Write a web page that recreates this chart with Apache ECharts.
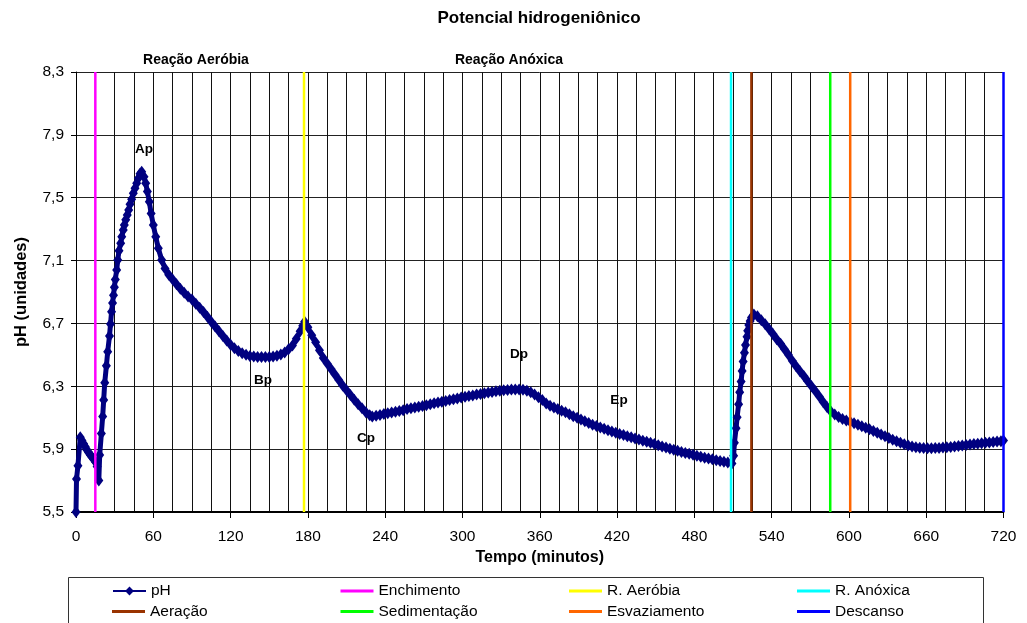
<!DOCTYPE html>
<html><head><meta charset="utf-8">
<script src="https://cdn.jsdelivr.net/npm/echarts@6/dist/echarts.min.js"></script>
<style>html,body{margin:0;padding:0;background:#fff}#c{width:1027px;height:623px}</style>
</head><body><div id="c"></div>
<script>
// ---- data ----
const times = [
  0,0.4,1.5,3.3,4.6,5.9,7.2,8.5,9.8,11.1,12.4,13.6,15,16.4,17.7,
  18.4,19.7,20.7,21.5,22.3,23.6,24.6,26,26.8,27.6,28.4,29.1,29.8,30.5,31.6,32.4,33.4,34.7,35.5,36.7,37.5,38.6,39.8,40.9,41.9,43.2,44.5,45.8,47.1,48.4,49.7,51,
  52.8,54.1,55.4,56.9,58.3,60,61.9,63.9,66.5,69.1,
  72,75,78,81,84,87,90,93,96,99,102,105,108,111,114,117,120,123,126,129,132,135,138,141,144,147,150,153,156,159,162,165,168,171,174,176,177.5,
  180,183,186,189,192,195,198,201,204,207,210,213,216,219,222,225,228,
  230,
  233,236,239,242,245,248,251,254,257,260,
  263,266,269,272,275,278,281,284,287,290,
  293,296,299,302,305,308,311,314,317,320,
  323,326,329,332,335,338,341,344,347,350,
  353,356,359,362,365,368,371,374,377,380,
  383,386,389,392,395,398,401,404,407,410,
  413,416,419,422,425,428,431,434,437,440,
  443,446,449,452,455,458,461,464,467,470,
  473,476,479,482,485,488,491,494,497,500,
  503,506,
  509.2,
  510.5,511.1,512.4,513.2,514.4,515.2,516.3,517.1,517.9,518.9,519.7,520.9,521.4,522.3,523.3,524.4,526.2,
  529,532,535,538,541,544,547,550,553,556,
  559,562,565,568,571,574,577,580,583,586,
  589,592,595,598,601,604,607,610,613,616,
  619,622,625,628,631,634,637,640,643,646,
  649,652,655,658,661,664,667,670,673,676,
  679,682,685,688,691,694,697,700,703,706,
  709,712,715,718,720
];
const phValues = [
  5.50,5.71,5.795,5.975,5.955,5.935,5.915,5.895,5.878,5.862,5.85,5.838,5.82,5.79,5.70,
  5.863,6.0,6.107,6.213,6.323,6.43,6.52,6.62,6.697,6.775,6.83,6.88,6.93,6.98,7.04,7.104,7.163,7.21,7.252,7.295,7.327,7.359,7.39,7.422,7.459,7.49,7.528,7.56,7.592,7.624,7.652,7.666,
  7.634,7.592,7.539,7.475,7.40,7.327,7.252,7.178,7.104,7.05,
  7.01,6.98,6.95,6.92,6.895,6.872,6.852,6.825,6.80,6.772,6.742,6.71,6.68,6.65,6.62,6.592,6.565,6.542,6.525,6.51,6.50,6.493,6.489,6.487,6.486,6.486,6.487,6.49,6.495,6.503,6.515,6.535,6.56,6.602,6.65,6.685,6.71,
  6.675,6.625,6.58,6.53,6.48,6.445,6.41,6.375,6.34,6.305,6.275,6.245,6.215,6.185,6.16,6.135,6.115,
  6.108,
  6.112,6.118,6.123,6.128,6.133,6.138,6.143,6.148,6.155,6.16,
  6.165,6.17,6.175,6.18,6.186,6.192,6.197,6.202,6.207,6.212,
  6.217,6.222,6.228,6.233,6.238,6.242,6.247,6.251,6.256,6.26,
  6.264,6.268,6.271,6.274,6.277,6.279,6.28,6.28,6.278,6.272,
  6.262,6.248,6.23,6.212,6.19,6.176,6.165,6.155,6.145,6.134,
  6.122,6.11,6.099,6.088,6.077,6.066,6.056,6.047,6.038,6.029,
  6.02,6.012,6.004,5.997,5.99,5.982,5.975,5.968,5.961,5.954,
  5.947,5.94,5.932,5.925,5.917,5.91,5.903,5.896,5.889,5.882,
  5.876,5.87,5.864,5.858,5.852,5.846,5.84,5.835,5.83,5.825,
  5.82,5.815,
  5.808,
  5.858,5.94,6.033,6.103,6.186,6.262,6.33,6.398,6.457,6.514,6.563,6.616,6.654,6.69,6.715,6.738,6.757,
  6.745,6.72,6.695,6.665,6.632,6.6,6.57,6.535,6.5,6.462,
  6.428,6.396,6.365,6.332,6.3,6.268,6.235,6.2,6.168,6.14,
  6.12,6.105,6.092,6.083,6.074,6.065,6.056,6.046,6.036,6.026,
  6.015,6.004,5.993,5.982,5.971,5.96,5.95,5.94,5.931,5.923,
  5.917,5.912,5.909,5.907,5.906,5.906,5.907,5.908,5.91,5.912,
  5.914,5.917,5.92,5.923,5.926,5.929,5.932,5.935,5.938,5.941,
  5.943,5.945,5.948,5.951,5.955
];
const phaseNames = ['Enchimento','R. Aeróbia','R. Anóxica','Aeração','Sedimentação','Esvaziamento','Descanso'];
const phaseTimes = [15, 177, 508.5, 524.3, 585.5, 601, 720];
const yTicks = [5.5, 5.9, 6.3, 6.7, 7.1, 7.5, 7.9, 8.3];
const xTicks = [0, 60, 120, 180, 240, 300, 360, 420, 480, 540, 600, 660, 720];
const noteLabels = ['Reação Aeróbia', 'Reação Anóxica', 'Ap', 'Bp', 'Cp', 'Dp', 'Ep'];
const noteTimes = [93, 335.9, 53, 144.9, 225.1, 343.7, 421.9];
const notePh = [8.374, 8.374, 7.807, 6.337, 5.974, 6.504, 6.212];
const legendOrder = ['pH', 'Enchimento', 'R. Aeróbia', 'R. Anóxica', 'Aeração', 'Sedimentação', 'Esvaziamento', 'Descanso'];

// ---- styles ----
const phaseColors = ['#FF00FF', '#FFFF00', '#00FFFF', '#993300', '#00FF00', '#FF6600', '#0000FF'];
const FONT = '"Liberation Sans", Arial, sans-serif';
const Y_MIN = yTicks[0], Y_MAX = yTicks[yTicks.length - 1];
const legendSlots = [[112,583],[340.5,583],[569,583],[797,583],[112,603.5],[340.5,603.5],[569,603.5],[797,603.5]];

const chart = echarts.init(document.getElementById('c'), null, {renderer: 'canvas'});

const series = [{
  name: 'pH', type: 'line',
  data: times.map((t, i) => [t, phValues[i]]),
  symbol: 'diamond', symbolSize: [9, 12], showAllSymbol: true,
  itemStyle: {color: '#000080'},
  lineStyle: {color: '#000080', width: 5},
  z: 2, clip: true, silent: true
}];
phaseNames.forEach((n, i) => {
  series.push({
    name: n, type: 'line',
    data: [[phaseTimes[i], Y_MIN], [phaseTimes[i], Y_MAX]],
    symbol: 'none',
    itemStyle: {color: phaseColors[i]},
    lineStyle: {color: phaseColors[i], width: 2.5},
    z: 3, silent: true
  });
});

const baseGraphic = [
  {type: 'text', x: 539, y: 18, style: {text: 'Potencial hidrogeniônico', font: 'bold 17px ' + FONT, fill: '#000', textAlign: 'center', textVerticalAlign: 'middle'}},
  {type: 'rect', z: -1, shape: {x: 68.5, y: 577.5, width: 915, height: 60}, style: {fill: 'none', stroke: '#333', lineWidth: 1}}
];

chart.setOption({
  animation: false,
  backgroundColor: '#fff',
  textStyle: {fontFamily: FONT},
  grid: {left: 76, right: 23.5, top: 72, bottom: 111, containLabel: false},
  xAxis: {
    type: 'value', min: xTicks[0], max: xTicks[xTicks.length - 1], interval: 60,
    axisLine: {show: true, onZero: false, lineStyle: {color: '#000', width: 2}},
    axisTick: {show: true, length: 6, lineStyle: {color: '#000'}},
    axisLabel: {margin: 17, fontSize: 15.5, color: '#000', fontFamily: FONT},
    splitLine: {show: true, lineStyle: {color: '#111', width: 1}},
    minorTick: {show: false, splitNumber: 4},
    minorSplitLine: {show: true, lineStyle: {color: '#111', width: 1}},
    name: 'Tempo (minutos)', nameLocation: 'middle', nameGap: 28,
    nameTextStyle: {fontWeight: 'bold', fontSize: 16, color: '#000', fontFamily: FONT}
  },
  yAxis: {
    type: 'value', min: Y_MIN, max: Y_MAX,
    axisLine: {show: true, lineStyle: {color: '#000', width: 1}},
    axisTick: {show: true, length: 5, lineStyle: {color: '#000'}, customValues: yTicks},
    axisLabel: {customValues: yTicks, margin: 12, fontSize: 15.5, color: '#000', fontFamily: FONT,
      formatter: v => v.toFixed(1).replace('.', ',')},
    splitLine: {show: true, lineStyle: {color: '#222', width: 1}},
    name: 'pH (unidades)', nameLocation: 'middle', nameGap: 46,
    nameTextStyle: {fontWeight: 'bold', fontSize: 16.5, color: '#000', fontFamily: FONT}
  },
  legend: legendOrder.map((n, i) => ({
    data: [n], left: legendSlots[i][0], top: legendSlots[i][1], padding: 0,
    itemWidth: 33, itemHeight: i === 0 ? 11 : 3, itemGap: 0, selectedMode: false,
    icon: i === 0 ? undefined : 'rect',
    lineStyle: i === 0 ? {width: 2} : undefined,
    textStyle: {fontSize: 15.5, color: '#000', fontFamily: FONT}
  })),
  graphic: baseGraphic,
  series: series
});

// annotation texts placed through the chart's own scales
const noteGraphic = noteLabels.map((n, i) => {
  const p = chart.convertToPixel({gridIndex: 0}, [noteTimes[i], notePh[i]]);
  return {
    type: 'text', x: Math.round(p[0]), y: Math.round(p[1]), z: 10,
    style: {text: n, font: 'bold ' + (n.length > 3 ? 14 : 13.5) + 'px ' + FONT, fill: '#000',
      textAlign: 'center', textVerticalAlign: 'middle'}
  };
});
chart.setOption({graphic: baseGraphic.concat(noteGraphic)}, {replaceMerge: ['graphic']});
</script>
</body></html>
